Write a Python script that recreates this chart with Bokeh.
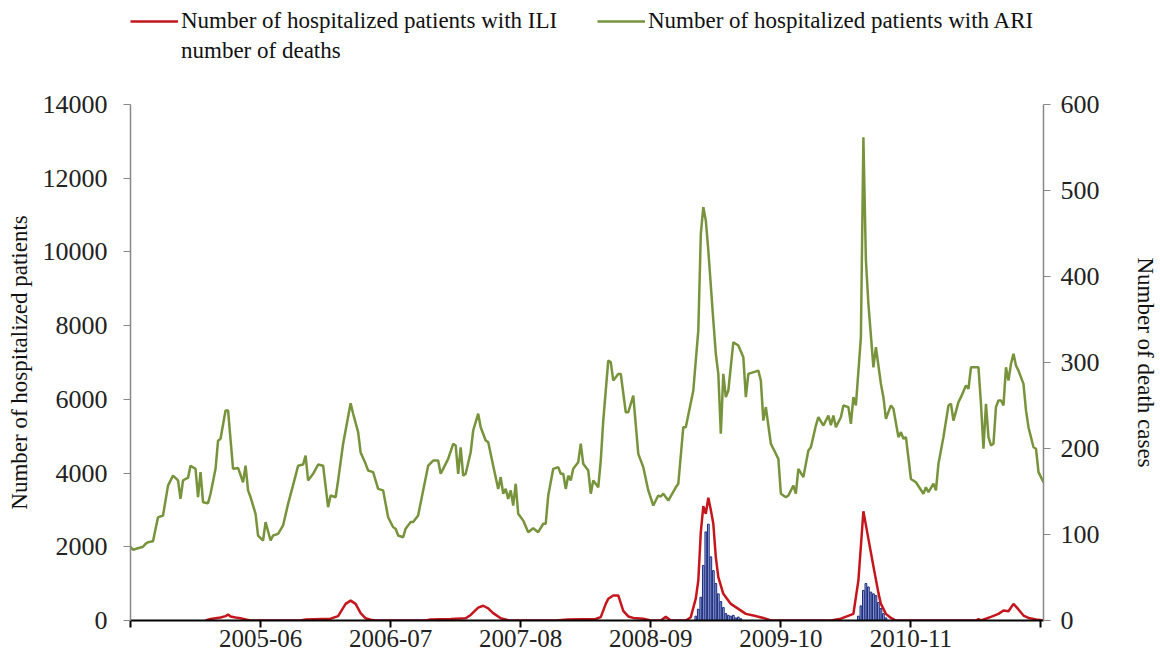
from bokeh.plotting import figure
from bokeh.models import Range1d, LinearAxis, FixedTicker, Legend, LegendItem
from bokeh.layouts import column
from bokeh.embed import file_html
from bokeh.resources import INLINE

# ---- data (week index from start of series) ----
season_ticks = [0, 52, 104, 156, 208, 260, 312, 364]
season_labels = ["", "2005-06", "2006-07", "2007-08", "2008-09", "2009-10", "2010-11", ""]

ari_week = [0, 1, 5, 6, 7, 9, 11, 13, 15, 17, 19, 20, 21, 22, 23, 24, 26, 27, 28, 29, 31, 32, 34, 35, 36, 38, 39,
            41, 43, 45, 46, 47, 48, 50, 51, 53, 54, 56, 57, 59, 61, 63, 66, 67, 69, 70, 71, 73, 75, 77, 79, 80, 82,
            83, 85, 88, 89, 91, 92, 94, 95, 97, 99, 101, 103, 105, 106, 107, 109, 110, 112, 113, 115, 117, 119, 121,
            123, 124, 125, 127, 129, 130, 131, 132, 133, 134, 136, 137, 139, 140, 142, 143, 145, 147, 148, 149, 150,
            151, 152, 153, 154, 155, 157, 159, 161, 163, 165, 166, 167, 169, 171, 172, 173, 174, 175, 176, 177, 179,
            180, 181, 183, 184, 185, 187, 188, 189, 191, 192, 193, 195, 196, 198, 199, 201, 203, 205, 207, 209, 211,
            212, 213, 215, 218, 219, 221, 222, 225, 227, 228, 229, 230, 231, 233, 234, 235, 236, 237, 238, 239, 241,
            243, 245, 246, 247, 251, 252, 253, 254, 256, 259, 260, 262, 263, 265, 266, 267, 269, 271, 272, 274, 275,
            277, 279, 280, 281, 282, 284, 285, 287, 288, 289, 290, 292, 293, 294, 295, 297, 298, 300, 301, 302, 304,
            305, 307, 308, 309, 310, 312, 314, 317, 318, 319, 321, 322, 323, 325, 327, 328, 329, 331, 332, 334, 335,
            336, 339, 340, 341, 342, 343, 344, 345, 346, 347, 348, 349, 350, 351, 352, 353, 354, 355, 357, 358, 359,
            361, 362, 363, 365]
ari_value = [2000, 1920, 2000, 2080, 2125, 2150, 2800, 2850, 3660, 3930, 3800, 3300, 3800, 3840, 3870, 4200, 4115,
             3345, 4025, 3210, 3180, 3440, 4115, 4880, 4930, 5700, 5700, 4115, 4140, 3750, 4200, 3530, 3345, 2895,
             2305, 2170, 2670, 2170, 2305, 2350, 2580, 3165, 3930, 4200, 4230, 4475, 3800, 3980, 4230, 4200, 3075,
             3390, 3345, 3800, 4795, 5895, 5610, 5110, 4560, 4250, 4070, 4025, 3570, 3530, 2800, 2530, 2490, 2305,
             2260, 2490, 2670, 2670, 2850, 3530, 4200, 4340, 4340, 3980, 4115, 4385, 4795, 4750, 3980, 4700, 3930,
             3980, 4565, 5155, 5610, 5245, 4885, 4840, 4200, 3570, 3890, 3440, 3570, 3300, 3530, 3120, 3710, 2895,
             2710, 2395, 2505, 2395, 2625, 2625, 3390, 4115, 4160, 3980, 3980, 3570, 3930, 3800, 4115, 4295, 4795,
             4250, 4070, 3440, 3800, 3615, 4340, 5425, 7050, 7010, 6510, 6690, 6690, 5650, 5650, 6100, 4520, 4160,
             3530, 3120, 3390, 3365, 3440, 3255, 3615, 3710, 5245, 5245, 6240, 7870, 10490, 11215, 10850, 10040,
             8140, 7235, 6690, 5065, 6690, 6060, 6240, 7550, 7460, 7145, 6060, 6690, 6780, 6510, 5425, 5790, 4795,
             4385, 3440, 3345, 3390, 3660, 3440, 4115, 3890, 4610, 4700, 5290, 5515, 5290, 5560, 5300, 5560, 5245,
             5515, 5835, 5790, 5335, 6060, 5835, 7690, 13110, 9770, 8590, 6870, 7415, 6420, 6060, 5470, 5835, 5745,
             4975, 5110, 4930, 4975, 3840, 3750, 3440, 3615, 3480, 3710, 3530, 4250, 4975, 5835, 5880, 5425, 5925,
             6060, 6375, 6285, 6870, 6870, 5880, 4660, 5880, 4975, 4750, 4795, 5790, 5970, 5970, 5835, 6870, 6510,
             6965, 7235, 6920, 6780, 6420, 5700, 5245, 4700, 4660, 4025, 3750]

ili_week = [30, 32, 34, 36, 38, 39, 40, 42, 44, 46, 48, 68, 70, 80, 83, 86, 88, 90, 92, 94, 96, 98, 118, 120, 128,
            134, 136, 139, 141, 143, 145, 148, 151, 153, 170, 175, 186, 188, 190, 191, 193, 195, 197, 199, 201, 205,
            208, 212, 214, 216, 222, 224, 226, 227, 228, 229, 230, 231, 232, 233, 234, 235, 237, 240, 243, 246, 249,
            253, 256, 280, 284, 289, 291, 293, 295, 297, 299, 300, 302, 304, 306, 338, 339, 340, 344, 347, 349, 351,
            353, 355, 357, 359, 362, 365]
ili_value = [0, 40, 60, 80, 120, 160, 110, 80, 60, 30, 0, 0, 30, 50, 120, 450, 540, 450, 200, 60, 20, 0, 0, 30, 40,
             60, 150, 350, 400, 330, 200, 60, 10, 0, 0, 30, 40, 90, 450, 590, 680, 680, 260, 110, 70, 50,
             0, 0, 100, 0, 0, 90, 600, 1085, 2400, 3100, 2895, 3330, 3000, 2625, 1720, 1175, 725, 450, 315, 180, 135,
             70, 0, 0, 50, 180, 1085, 2965, 2215, 1470, 750, 450, 180, 70, 0, 0, 40, 0, 100, 180, 270, 250,
             450, 300, 135, 70, 30, 0]

death_week = [226, 227, 228, 229, 230, 231, 232, 233, 234, 235, 236, 237, 238, 239, 240, 241, 242, 243, 244,
              291, 292, 293, 294, 295, 296, 297, 298, 299, 300, 301, 302]
death_value = [5, 13, 27, 64, 103, 112, 74, 58, 43, 31, 22, 15, 8, 6, 5, 6, 3, 4, 2,
               5, 17, 35, 43, 39, 33, 31, 29, 21, 14, 8, 3]

FONT = "Liberation Serif"
RED = "#C4161C"
GREEN = "#77933C"
W = 1160

# ---------------- main chart ----------------
p = figure(width=W, height=576, output_backend="svg", toolbar_location=None,
           x_range=Range1d(0, 365), y_range=Range1d(0, 14000),
           min_border_left=130, min_border_right=W - 1043, min_border_top=20, min_border_bottom=40)
p.extra_y_ranges = {"deaths": Range1d(0, 600)}
p.xgrid.visible = False
p.ygrid.visible = False
p.outline_line_color = None

green = p.line(ari_week, ari_value, line_color=GREEN, line_width=2.5)
bars = p.vbar(x=death_week, top=death_value, bottom=0, width=0.7, y_range_name="deaths",
              fill_color="#A3B3E0", line_color="#1B2A7E", line_width=1)
red = p.line(ili_week, ili_value, line_color=RED, line_width=2.5)

# x axis
xa = p.xaxis[0]
xa.ticker = FixedTicker(ticks=season_ticks)
xa.major_label_overrides = {t: l for t, l in zip(season_ticks, season_labels)}
xa.axis_line_color = "black"
xa.axis_line_width = 2
xa.major_tick_line_color = "black"
xa.major_tick_line_width = 2
xa.major_tick_out = 7
xa.major_tick_in = 0
xa.minor_tick_line_color = None
xa.major_label_text_font = FONT
xa.major_label_text_font_size = "25px"
xa.major_label_text_color = "#222222"
xa.major_label_standoff = 2

# left axis
ya = p.yaxis[0]
ya.ticker = FixedTicker(ticks=list(range(0, 14001, 2000)))
ya.axis_line_color = "#888888"
ya.axis_line_width = 1.5
ya.major_tick_line_color = "#888888"
ya.major_tick_out = 7
ya.major_tick_in = 0
ya.minor_tick_line_color = None
ya.major_label_text_font = FONT
ya.major_label_text_font_size = "26px"
ya.major_label_text_color = "#222222"
ya.major_label_standoff = 16
ya.axis_label = "Number of hospitalized patients"
ya.axis_label_text_font = FONT
ya.axis_label_text_font_size = "23px"
ya.axis_label_text_font_style = "normal"
ya.axis_label_text_color = "#111111"
ya.axis_label_standoff = 8

# right axis
ra = LinearAxis(y_range_name="deaths", ticker=FixedTicker(ticks=list(range(0, 601, 100))))
ra.axis_line_color = "#888888"
ra.axis_line_width = 1.5
ra.major_tick_line_color = "#888888"
ra.major_tick_out = 7
ra.major_tick_in = 0
ra.minor_tick_line_color = None
ra.major_label_text_font = FONT
ra.major_label_text_font_size = "26px"
ra.major_label_text_color = "#222222"
ra.major_label_standoff = 10
ra.axis_label = "Number of death cases"
ra.axis_label_text_font = FONT
ra.axis_label_text_font_size = "23px"
ra.axis_label_text_font_style = "normal"
ra.axis_label_text_color = "#111111"
ra.axis_label_standoff = 30
p.add_layout(ra, "right")

# ---------------- legend strip ----------------
lg = figure(width=W, height=84, output_backend="svg", toolbar_location=None,
            x_range=Range1d(0, 365), y_range=Range1d(-2, -1),
            min_border_left=0, min_border_right=0, min_border_top=0, min_border_bottom=0,
            x_axis_type=None, y_axis_type=None)
lg.xgrid.visible = False
lg.ygrid.visible = False
lg.outline_line_color = None
# keys reuse the series (kept outside this strip's visible range)
k_red = lg.line(ili_week, ili_value, line_color=RED, line_width=2.5)
k_green = lg.line(ari_week, ari_value, line_color=GREEN, line_width=2.5)
k_death = lg.line(death_week, death_value, line_alpha=0)

legend = Legend(items=[
    LegendItem(label="Number of hospitalized patients with ILI", renderers=[k_red]),
    LegendItem(label="number of deaths", renderers=[k_death]),
    LegendItem(label="Number of hospitalized patients with ARI", renderers=[k_green]),
], orientation="vertical", nrows=2, location=(0, 20))
legend.label_text_font = FONT
legend.label_text_font_size = "23px"
legend.label_text_color = "#111111"
legend.glyph_width = 48
legend.glyph_height = 26
legend.label_height = 26
legend.label_width = 412
legend.label_standoff = 3
legend.spacing = 4
legend.padding = 0
legend.margin = 0
legend.border_line_alpha = 0
legend.background_fill_alpha = 0
lg.add_layout(legend)

open("out.html", "w").write(file_html(column(lg, p, spacing=0), INLINE))
